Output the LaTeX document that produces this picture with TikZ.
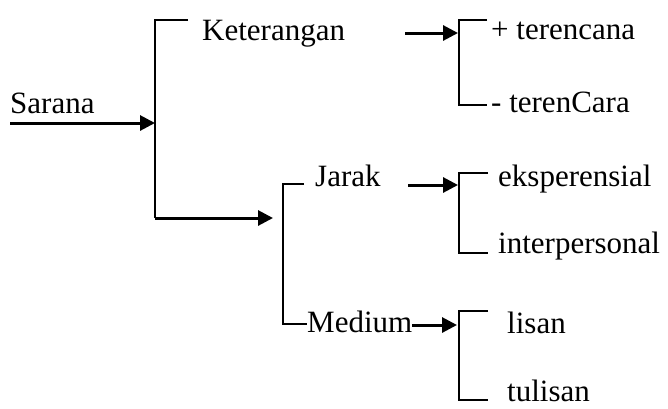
\documentclass[tikz,border=0pt]{standalone}
\usepackage{fontspec}
\setmainfont{Liberation Serif}
\usetikzlibrary{arrows.meta}

\begin{document}
\begin{tikzpicture}[x=1pt,y=-1pt]
  \tikzset{every node/.style={inner sep=0,anchor=base west,font=\fontsize{31}{36}\selectfont},
    brk/.style={draw,line width=1.6pt},
    arr/.style={draw,line width=3pt,-{Triangle[length=15pt,width=15pt]}}}
  \useasboundingbox (0,0) rectangle (668,408);

  % labels
  \node (sarana) at (10,113) {Sarana};
  \node (ket) at (202,40) {Keterangan};
  \node (plus) at (491,39.5) {+ terencana};
  \node (minus) at (491,112) {- terenCara};
  \node (jarak) at (315,186) {Jarak};
  \node (medium) at (307,332) {Medium};
  \node (eks) at (498,186) {eksperensial};
  \node (inter) at (498,253) {interpersonal};
  \node (lisan) at (507,333) {lisan};
  \node (tulisan) at (507,401) {tulisan};

  % bracket corners and arrow ends
  \coordinate (s0) at (10,123);  \coordinate (s1) at (155,123);
  \coordinate (m0) at (188,20);  \coordinate (m1) at (155,20);
  \coordinate (m2) at (155,218); \coordinate (m3) at (273,218);
  \coordinate (k0) at (405,33);  \coordinate (k1) at (458,33);
  \coordinate (t0) at (487,20);  \coordinate (t1) at (459,20);
  \coordinate (t2) at (459,105); \coordinate (t3) at (487,105);
  \coordinate (j0) at (304,184); \coordinate (j1) at (283,184);
  \coordinate (j2) at (283,324); \coordinate (j3) at (307,324);
  \coordinate (ja0) at (408,185); \coordinate (ja1) at (458,185);
  \coordinate (me0) at (412,325); \coordinate (me1) at (457,325);
  \coordinate (e0) at (488,173); \coordinate (e1) at (459,173);
  \coordinate (e2) at (459,253); \coordinate (e3) at (488,253);
  \coordinate (l0) at (488,311); \coordinate (l1) at (459,311);
  \coordinate (l2) at (459,400); \coordinate (l3) at (488,400);

  % arrows
  \draw[arr] (s0) -- (s1);
  \draw[arr] (m2) -- (m3);
  \draw[arr] (k0) -- (k1);
  \draw[arr] (ja0) -- (ja1);
  \draw[arr] (me0) -- (me1);

  % brackets
  \draw[brk] (m0) -- (m1) -- (m2);
  \draw[brk] (t0) -- (t1) -- (t2) -- (t3);
  \draw[brk] (j0) -- (j1) -- (j2) -- (j3);
  \draw[brk] (e0) -- (e1) -- (e2) -- (e3);
  \draw[brk] (l0) -- (l1) -- (l2) -- (l3);
\end{tikzpicture}
\end{document}
